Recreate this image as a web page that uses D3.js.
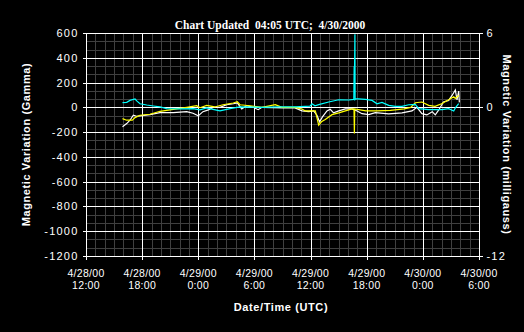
<!DOCTYPE html>
<html><head><meta charset="utf-8">
<script src="https://cdn.jsdelivr.net/npm/d3@7"></script>
<style>
html,body{margin:0;padding:0;background:#000;}
svg{display:block;}
</style></head>
<body>
<svg id="c" width="524" height="332"></svg>
<script>
// Hours since 4/28/00 12:00 UTC
const xTickHours = [0, 6, 12, 18, 24, 30, 36, 42];
const xTickLabels = [["4/28/00","12:00"],["4/28/00","18:00"],["4/29/00","0:00"],["4/29/00","6:00"],
  ["4/29/00","12:00"],["4/29/00","18:00"],["4/30/00","0:00"],["4/30/00","6:00"]];
const yTicks = [600,400,200,0,-200,-400,-600,-800,-1000,-1200];
const yRightTicks = [6, 0, -12];

const cyanT = [3.9,4.35,4.7,5.24,5.45,5.77,6.49,7.19,7.91,8.62,10.05,11.44,12.18,12.9,13.57,14.32,15.39,16.46,17.85,18.81,20.73,22.34,23.44,23.94,24.15,24.47,24.87,25.94,27.01,28.08,28.62,28.66,28.7,28.74,28.76,28.82,29.14,29.85,30.57,31.1,31.63,32.35,33.06,33.77,34.49,35.19,35.56,36.62,38.05,38.76,39.3,39.47,39.83];
const cyanV = [38,40,56,67,50,29,19,11,3,-11,-13,-10,-21,-5,-16,-29,-11,3,2,0,3,3,8,10,29,13,22,43,61,59,64,323,320,590,64,70,69,64,56,29,40,16,8,8,21,24,-11,-19,-19,-11,-29,-5,29];

const yellowT = [3.9,4.33,4.95,5.24,5.77,6.84,7.91,9.33,10.76,11.83,12.18,12.9,13.75,14.64,15.74,16.17,16.46,17.53,18.81,20.23,20.94,22.37,23.08,23.44,24.51,24.87,25.16,25.57,26.29,27.01,27.72,28.43,28.64,28.68,28.72,29.91,31.1,32.53,34.0,34.7,35.2,35.9,36.62,37.3,38.0,38.76,39.3,39.47,39.83];
const yellowV = [-91,-104,-104,-83,-64,-56,-32,-16,0,13,-3,16,3,21,35,45,21,13,0,21,0,0,-13,-29,-29,-144,-117,-99,-59,-45,-29,-13,-13,-211,-13,-29,-29,-24,-13,0,37,43,16,8,29,61,85,72,96];

const whiteT = [3.9,4.35,4.7,5.06,5.4,5.77,6.84,7.91,9.33,10.76,11.44,12.0,12.5,13.08,13.6,14.32,15.03,15.74,16.17,16.64,17.17,17.88,18.4,18.81,21.0,22.34,23.08,23.8,24.33,24.68,24.96,25.27,25.75,26.1,26.46,27.01,27.72,28.43,28.97,29.5,30.21,30.92,32.35,33.77,34.84,35.37,35.9,36.43,37.0,37.33,37.7,38.2,38.76,39.12,39.47,39.65,39.83,39.9];
const whiteV = [-157,-131,-104,-64,-72,-69,-59,-43,-43,-35,-48,-69,-35,-21,0,0,21,29,35,-13,13,0,-19,0,-5,-5,-29,-35,-29,-64,-117,-77,-29,-16,-45,-29,-13,-13,-29,-51,-59,-43,-53,-45,-29,0,-51,-61,-35,-61,-21,43,56,96,141,61,131,40];

const L = 86, R = 479, T = 33, B = 256;
const svg = d3.select("#c");
const x = d3.scaleLinear().domain([0, 42]).range([L, R]);
const y = d3.scaleLinear().domain([-1200, 600]).range([B, T]);
const y2 = d3.scaleLinear().domain([-12, 6]).range([B, T]);
const px = v => Math.round(v) + 0.5;

const g = svg.append("g").attr("shape-rendering", "crispEdges");
// minor grid
const minorX = d3.range(0, 43, 1).filter(h => h % 6 !== 0);
const minorY = d3.range(0, 27).map(i => -1200 + i * 200 / 3).filter((v, i) => i % 3 !== 0);
g.selectAll(".mx").data(minorX).join("line")
  .attr("x1", d => px(x(d))).attr("x2", d => px(x(d))).attr("y1", T).attr("y2", B)
  .attr("stroke", "#3f3f3f");
g.selectAll(".my").data(minorY).join("line")
  .attr("y1", d => px(y(d))).attr("y2", d => px(y(d))).attr("x1", L).attr("x2", R)
  .attr("stroke", "#3f3f3f");
// major grid
g.selectAll(".Mx").data(xTickHours).join("line")
  .attr("x1", d => px(x(d))).attr("x2", d => px(x(d))).attr("y1", T).attr("y2", B)
  .attr("stroke", "#fff");
g.selectAll(".My").data(yTicks).join("line")
  .attr("y1", d => px(y(d))).attr("y2", d => px(y(d))).attr("x1", L).attr("x2", R)
  .attr("stroke", "#fff");

// axes
const fontTick = "'Liberation Sans', Arial, sans-serif";
const yAxis = d3.axisLeft(y).tickValues(yTicks).tickSize(4).tickPadding(4)
  .tickFormat(d => d < 0 ? "-" + Math.abs(d) : String(d));
const ya = svg.append("g").attr("transform", `translate(${px(L)},0)`).call(yAxis);
const xAxis = d3.axisBottom(x).tickValues(xTickHours).tickSize(3).tickFormat("");
const xa = svg.append("g").attr("transform", `translate(0,${px(B)})`).call(xAxis);
const yAxisR = d3.axisRight(y2).tickValues(yRightTicks).tickSize(3).tickPadding(4)
  .tickFormat(d => d < 0 ? "-" + Math.abs(d) : String(d));
const yr = svg.append("g").attr("transform", `translate(${px(R)},0)`).call(yAxisR);
[ya, xa, yr].forEach(a => {
  a.selectAll("path").attr("stroke", "#fff").attr("shape-rendering", "crispEdges");
  a.selectAll("line").attr("stroke", "#fff").attr("shape-rendering", "crispEdges");
  a.selectAll("text").attr("fill", "#fff").style("font-family", fontTick)
    .style("font-size", "11px").style("letter-spacing", "1.2px");
});
ya.select(".domain").remove(); yr.select(".domain").remove(); xa.select(".domain").remove();

// series (clipped to plot area)
svg.append("clipPath").attr("id", "clip").append("rect")
  .attr("x", L).attr("y", T).attr("width", R - L).attr("height", B - T);
const line = d3.line().x(d => x(d[0])).y(d => y(d[1]));
const series = [
  {t: whiteT, v: whiteV, c: "#ffffff"},
  {t: yellowT, v: yellowV, c: "#ffff00"},
  {t: cyanT, v: cyanV, c: "#00ffff"}
];
const sg = svg.append("g").attr("clip-path", "url(#clip)");
series.forEach(s => {
  sg.append("path").datum(s.t.map((t, i) => [t, s.v[i]]))
    .attr("d", line).attr("fill", "none").attr("stroke", s.c).attr("stroke-width", 1.2);
});

svg.append("rect").attr("x", px(L)).attr("y", px(T)).attr("width", Math.round(R - L)).attr("height", Math.round(B - T))
  .attr("fill", "none").attr("stroke", "#fff").attr("shape-rendering", "crispEdges");

// x tick labels (two lines)
const xl = svg.append("g").selectAll("text").data(xTickHours).join("text")
  .attr("x", d => x(d)).attr("y", 277).attr("text-anchor", "middle")
  .attr("fill", "#fff").style("font-family", fontTick).style("font-size", "10.5px").style("letter-spacing", "0.3px");
xl.append("tspan").attr("x", d => x(d)).attr("dy", 0).text((d, i) => xTickLabels[i][0]);
xl.append("tspan").attr("x", d => x(d)).attr("dy", 12).text((d, i) => xTickLabels[i][1]);

// titles
svg.append("text").attr("x", 270).attr("y", 29).attr("text-anchor", "middle")
  .attr("fill", "#fff").style("font-family", "'Liberation Serif', 'Times New Roman', serif")
  .style("font-weight", "bold").style("font-size", "11.5px").style("white-space", "pre")
  .text("Chart Updated  04:05 UTC;  4/30/2000");
svg.append("text").attr("transform", `translate(30,${(T + B) / 2}) rotate(-90)`).attr("text-anchor", "middle")
  .attr("fill", "#fff").style("font-family", fontTick).style("font-weight", "bold")
  .style("font-size", "11px").style("letter-spacing", "0.6px")
  .text("Magnetic Variation (Gamma)");
svg.append("text").attr("transform", `translate(503,${(T + B) / 2}) rotate(90)`).attr("text-anchor", "middle")
  .attr("fill", "#fff").style("font-family", fontTick).style("font-weight", "bold")
  .style("font-size", "11px").style("letter-spacing", "0.6px")
  .text("Magnetic Variation (milligauss)");
svg.append("text").attr("x", 281).attr("y", 311).attr("text-anchor", "middle")
  .attr("fill", "#fff").style("font-family", fontTick).style("font-weight", "bold")
  .style("font-size", "11px").style("letter-spacing", "0.6px")
  .text("Date/Time (UTC)");
</script>
</body></html>
